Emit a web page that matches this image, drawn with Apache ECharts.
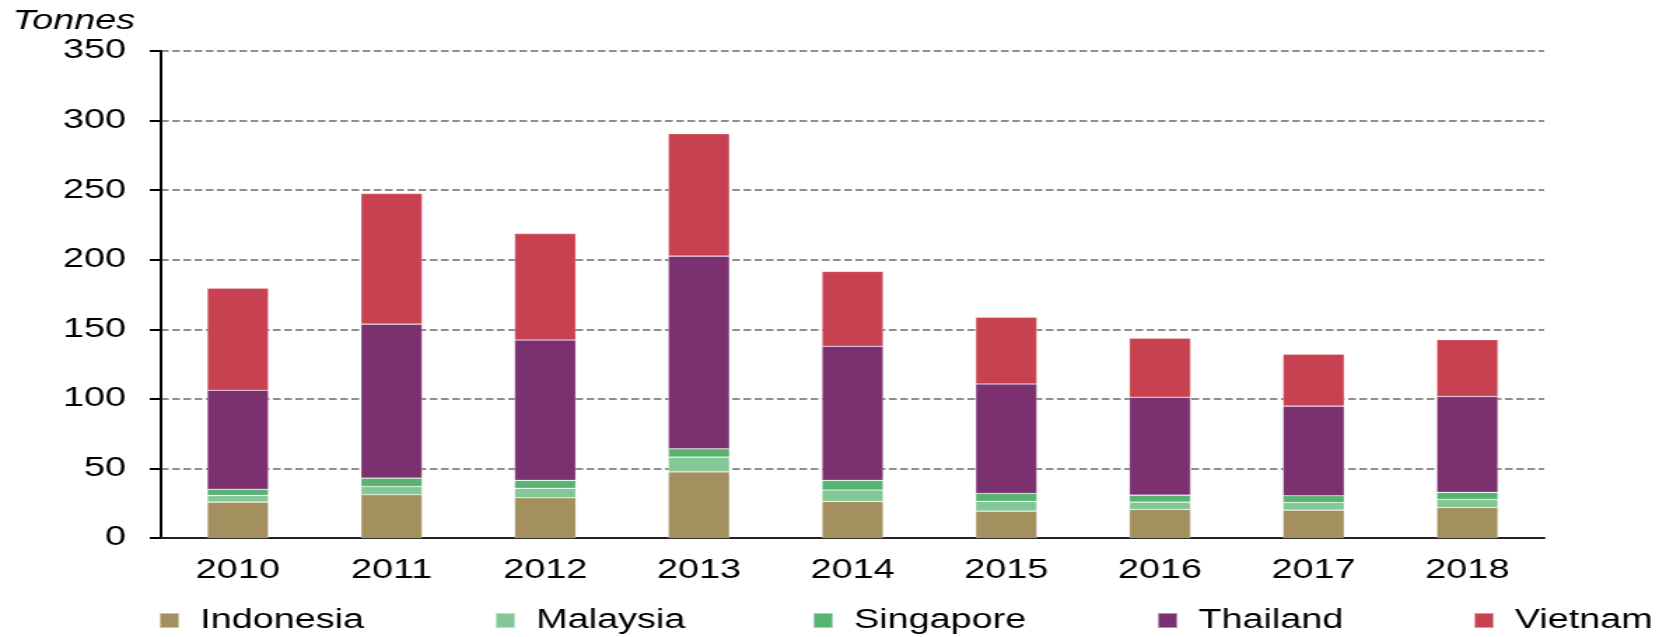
<!DOCTYPE html>
<html>
<head>
<meta charset="utf-8">
<script src="https://cdn.jsdelivr.net/npm/echarts@6/dist/echarts.min.js"></script>
<style>
html, body { margin: 0; padding: 0; background: #fff; overflow: hidden; }
/* the source picture is stretched sideways, so the chart is drawn narrow and widened */
#main { width: 1185px; height: 637px; transform: scaleX(1.4); transform-origin: 0 0; }
</style>
</head>
<body>
<div id="main"></div>
<script>
var years = ['2010', '2011', '2012', '2013', '2014', '2015', '2016', '2017', '2018'];
var indonesia = [25.8, 31.1, 28.9, 47.5, 26.3, 19.3, 20.5, 20.0, 21.9];
var malaysia  = [4.8, 5.9, 6.8, 10.6, 8.2, 7.0, 5.3, 5.5, 5.8];
var singapore = [4.4, 6.0, 5.7, 6.0, 6.9, 5.7, 5.0, 4.9, 5.1];
var thailand  = [71.2, 110.7, 100.9, 138.5, 96.4, 78.7, 70.4, 64.4, 68.9];
var vietnam   = [73.4, 93.9, 76.5, 88.0, 53.8, 47.9, 42.4, 37.3, 40.9];

var names = ['Indonesia', 'Malaysia', 'Singapore', 'Thailand', 'Vietnam'];
var values = [indonesia, malaysia, singapore, thailand, vietnam];
var colors = ['#A48F5E', '#82C896', '#58B272', '#7B316F', '#C84150'];
var legendLeft = [113, 353, 580, 826, 1052];

var font = 'Liberation Sans, Arial, sans-serif';
var dom = document.getElementById('main');
var myChart = echarts.init(dom);
var option = null;

option = {
    animation: false,
    color: colors,
    title: {
        text: 'Tonnes',
        left: 9,
        top: 8,
        padding: 0,
        textStyle: {
            fontFamily: font,
            fontStyle: 'italic',
            fontWeight: 'normal',
            fontSize: 27,
            color: '#000'
        }
    },
    legend: names.map(function (n, i) {
        return {
            data: [n],
            left: legendLeft[i],
            top: 607,
            padding: 0,
            itemWidth: 14,
            itemHeight: 15,
            icon: 'rect',
            selectedMode: false,
            textStyle: {
                fontFamily: font,
                fontSize: 27,
                color: '#000',
                padding: [0, 0, 0, 10]
            }
        };
    }),
    grid: {
        left: 115,
        right: 82,
        top: 51,
        bottom: 99
    },
    xAxis: {
        type: 'category',
        data: years,
        axisLine: { lineStyle: { color: '#222', width: 2 } },
        axisTick: { length: 10, lineStyle: { color: '#222', width: 2 } },
        axisLabel: {
            margin: 19,
            fontFamily: font,
            fontSize: 27,
            color: '#000'
        }
    },
    yAxis: {
        type: 'value',
        min: 0,
        max: 350,
        interval: 50,
        axisLine: { show: true, lineStyle: { color: '#000', width: 2 } },
        axisTick: { show: true, length: 8, lineStyle: { color: '#000', width: 2 } },
        axisLabel: {
            margin: 25,
            fontFamily: font,
            fontSize: 27,
            color: '#000'
        },
        splitLine: {
            lineStyle: { color: '#6a6a6a', width: 1.6, type: [5.5, 2.5] }
        }
    },
    series: names.map(function (n, i) {
        return {
            name: n,
            type: 'bar',
            stack: 'total',
            barWidth: '40%',
            data: values[i],
            itemStyle: {
                color: colors[i],
                borderColor: 'rgba(255,255,255,0.45)',
                borderWidth: 0.6
            }
        };
    })
};

if (option && typeof option === 'object') {
    myChart.setOption(option, true);
}
</script>
</body>
</html>
